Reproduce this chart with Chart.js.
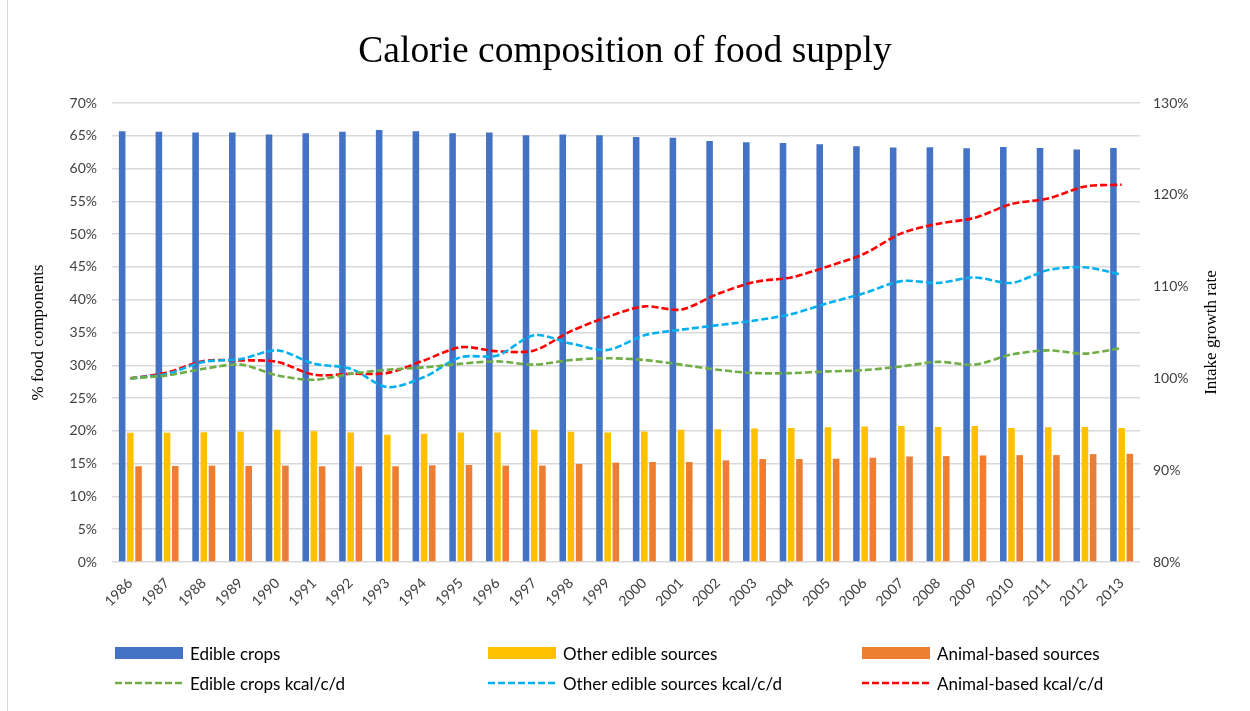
<!DOCTYPE html>
<html>
<head>
<meta charset="utf-8">
<script src="https://cdn.jsdelivr.net/npm/chart.js@4"></script>
<style>
  body { margin: 0; background: #fff; }
  #wrap { position: relative; width: 1250px; height: 711px; }
  #edge { position: absolute; left: 7px; top: 0; width: 1px; height: 711px; background: #d9d9d9; }
  #legend { position: absolute; left: 0; top: 0; width: 1250px; height: 711px; pointer-events: none;
            font-family: Lato, sans-serif; font-size: 17px; color: #000; }
  .item { position: absolute; display: flex; align-items: center; white-space: nowrap; }
  .item svg { margin-right: 7px; }
</style>
</head>
<body>
<div id="wrap">
  <canvas id="myChart" width="1250" height="711"></canvas>
  <div id="edge"></div>
  <div id="legend"></div>
</div>
<script>
// years on the category axis
const years = ['1986','1987','1988','1989','1990','1991','1992','1993','1994','1995','1996','1997','1998','1999',
               '2000','2001','2002','2003','2004','2005','2006','2007','2008','2009','2010','2011','2012','2013'];

// share of calories (left axis, %)
const edibleCrops = [65.7, 65.6, 65.5, 65.5, 65.2, 65.4, 65.6, 65.9, 65.7, 65.4, 65.5, 65.1, 65.2, 65.1,
                     64.8, 64.7, 64.2, 64.0, 63.9, 63.7, 63.4, 63.2, 63.25, 63.1, 63.3, 63.15, 62.9, 63.15];
const otherEdible = [19.7, 19.7, 19.8, 19.85, 20.15, 19.95, 19.75, 19.4, 19.55, 19.75, 19.75, 20.15, 19.85, 19.75,
                     19.9, 20.15, 20.25, 20.35, 20.45, 20.55, 20.65, 20.75, 20.6, 20.75, 20.45, 20.55, 20.6, 20.45];
const animalBased = [14.6, 14.65, 14.7, 14.65, 14.7, 14.6, 14.6, 14.6, 14.75, 14.8, 14.7, 14.7, 14.95, 15.15,
                     15.25, 15.25, 15.5, 15.7, 15.7, 15.75, 15.9, 16.1, 16.15, 16.25, 16.3, 16.3, 16.45, 16.5];

// intake growth relative to 1986 (right axis, %)
const cropsKcal  = [100, 100.33, 101.05, 101.5, 100.33, 99.85, 100.5, 100.94, 101.2, 101.6, 101.85, 101.5, 102.0, 102.2,
                    102.0, 101.5, 100.94, 100.58, 100.58, 100.76, 100.9, 101.3, 101.8, 101.5, 102.6, 103.05, 102.7, 103.3];
const otherKcal  = [100, 100.5, 101.8, 102.1, 103.05, 101.6, 101.05, 99.05, 100.15, 102.3, 102.5, 104.7, 103.8, 103.1,
                    104.7, 105.3, 105.8, 106.3, 107.0, 108.2, 109.3, 110.6, 110.4, 111.0, 110.4, 111.8, 112.1, 111.3];
const animalKcal = [100, 100.65, 101.9, 101.96, 101.8, 100.4, 100.5, 100.6, 101.96, 103.4, 102.95, 103.05, 105.15, 106.7,
                    107.85, 107.5, 109.2, 110.5, 111.0, 112.2, 113.6, 115.8, 116.85, 117.5, 119.0, 119.6, 120.9, 121.1];

const leftTicks = { min: 0, max: 70, step: 5 };
const rightTicks = { min: 80, max: 130, step: 10 };

const tickFont = { family: 'Lato', size: 14 };
const serif = 'Liberation Serif';
const dash = [7, 3];

function barSet(label, values, color) {
  return { type: 'bar', label: label, data: values, backgroundColor: color, borderWidth: 0,
           yAxisID: 'y', order: 2, categoryPercentage: 0.67, barPercentage: 0.8 };
}
function lineSet(label, values, color) {
  return { type: 'line', label: label, data: values, borderColor: color, backgroundColor: color,
           borderWidth: 2.6, borderDash: dash, pointRadius: 0, tension: 0.3, fill: false,
           yAxisID: 'y1', order: 1 };
}

const data = {
  labels: years,
  datasets: [
    barSet('Edible crops', edibleCrops, '#4472C4'),
    barSet('Other edible sources', otherEdible, '#FFC000'),
    barSet('Animal-based sources', animalBased, '#ED7D31'),
    lineSet('Edible crops kcal/c/d', cropsKcal, '#70AD47'),
    lineSet('Other edible sources kcal/c/d', otherKcal, '#00B0F0'),
    lineSet('Animal-based kcal/c/d', animalKcal, '#FF0000')
  ]
};

// right axis title reads bottom-to-top, so it is drawn here
const rightTitle = {
  id: 'rightTitle',
  afterDraw(chart) {
    const ctx = chart.ctx;
    const a = chart.chartArea;
    ctx.save();
    ctx.translate(1212, (a.top + a.bottom) / 2);
    ctx.rotate(-Math.PI / 2);
    ctx.font = '17px "' + serif + '"';
    ctx.fillStyle = '#000';
    ctx.textAlign = 'center';
    ctx.textBaseline = 'middle';
    ctx.fillText('Intake growth rate', 0, 0);
    ctx.restore();
  }
};

const config = {
  type: 'bar',
  data: data,
  plugins: [rightTitle],
  options: {
    responsive: false,
    animation: false,
    layout: { padding: { top: 0, bottom: 89, left: 0, right: 0 } },
    plugins: {
      legend: { display: false },
      tooltip: { enabled: false },
      title: {
        display: true,
        text: 'Calorie composition of food supply',
        color: '#000',
        font: { family: serif, size: 37.5, weight: 'normal' },
        padding: { top: 30, bottom: 28 }
      }
    },
    scales: {
      x: {
        grid: { display: false },
        border: { display: false },
        ticks: { color: '#404040', font: tickFont, autoSkip: false, maxRotation: 45, minRotation: 45, padding: 5 },
        afterFit(scale) { scale.height = 60; }
      },
      y: {
        position: 'left',
        min: leftTicks.min, max: leftTicks.max,
        grid: { color: '#d9d9d9', lineWidth: 1.5, drawTicks: false },
        border: { display: false },
        ticks: { stepSize: leftTicks.step, color: '#404040', font: tickFont, padding: 15,
                 callback: v => v + '%' },
        title: { display: true, text: '% food components', color: '#000',
                 font: { family: serif, size: 17 }, padding: { top: 28, bottom: 0 } },
        afterFit(scale) { scale.width = 112; }
      },
      y1: {
        position: 'right',
        min: rightTicks.min, max: rightTicks.max,
        grid: { display: false, drawTicks: false },
        border: { display: false },
        ticks: { stepSize: rightTicks.step, color: '#404040', font: tickFont, padding: 13,
                 callback: v => v + '%' },
        afterFit(scale) { scale.width = 110; }
      }
    }
  }
};

const myChart = new Chart(document.getElementById('myChart'), config);

// legend: two rows of three, laid out in fixed columns
const legendCols = [115, 488, 862];
const legendRows = [653, 683];
const legendBox = document.getElementById('legend');
data.datasets.forEach((ds, i) => {
  const item = document.createElement('div');
  item.className = 'item';
  item.style.left = legendCols[i % 3] + 'px';
  item.style.top = (legendRows[Math.floor(i / 3)] - 11) + 'px';
  item.style.height = '22px';
  let swatch;
  if (ds.type === 'bar') {
    swatch = '<svg width="68" height="12"><rect x="0" y="0" width="68" height="12" fill="' + ds.backgroundColor + '"/></svg>';
  } else {
    swatch = '<svg width="68" height="12"><line x1="0" y1="6" x2="68" y2="6" stroke="' + ds.borderColor +
             '" stroke-width="2.6" stroke-dasharray="' + dash.join(' ') + '"/></svg>';
  }
  item.innerHTML = swatch + '<span>' + ds.label + '</span>';
  legendBox.appendChild(item);
});
</script>
</body>
</html>
